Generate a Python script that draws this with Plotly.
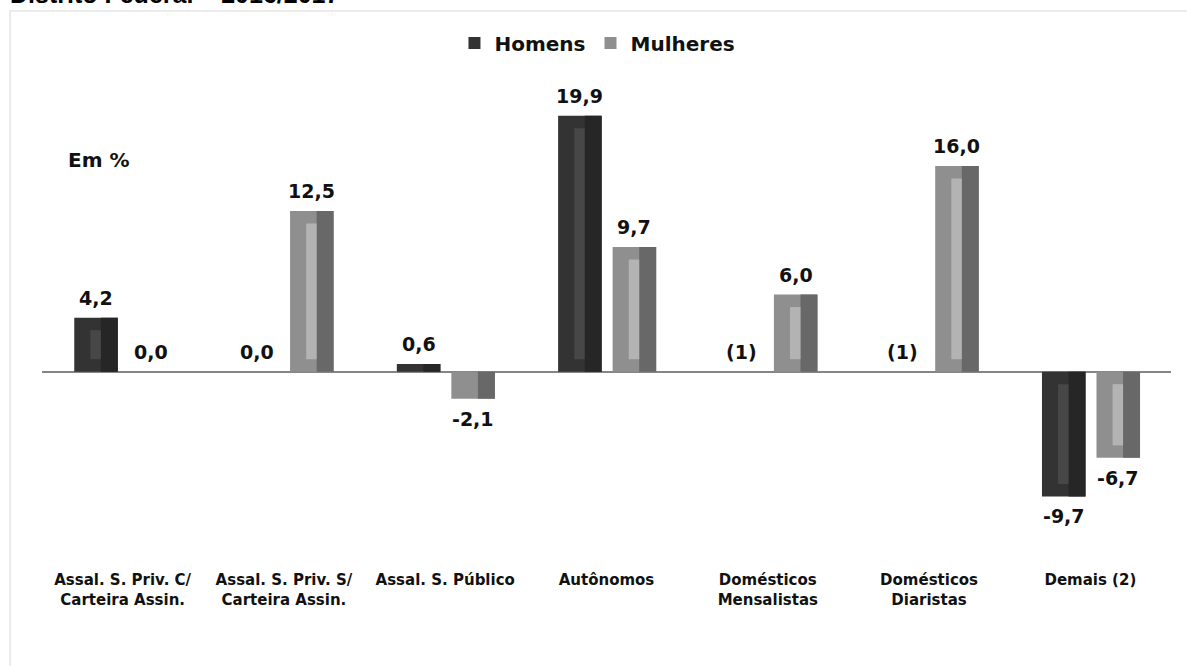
import plotly.graph_objects as go

categories = [
    "Assal. S. Priv. C/<br>Carteira Assin.",
    "Assal. S. Priv. S/<br>Carteira Assin.",
    "Assal. S. Público",
    "Autônomos",
    "Domésticos<br>Mensalistas",
    "Domésticos<br>Diaristas",
    "Demais (2)",
]
homens = [4.2, 0.0, 0.6, 19.9, None, None, -9.7]
mulheres = [0.0, 12.5, -2.1, 9.7, 6.0, 16.0, -6.7]
homens_labels = ["4,2", "0,0", "0,6", "19,9", "(1)", "(1)", "-9,7"]
mulheres_labels = ["0,0", "12,5", "-2,1", "9,7", "6,0", "16,0", "-6,7"]

# geometry / style
W = 0.27
OFF = {"Homens": -0.30, "Mulheres": 0.038}
COLORS = {
    "Homens": {"left": "#333333", "right": "#262626", "stripe": "#474747"},
    "Mulheres": {"left": "#8f8f8f", "right": "#686868", "stripe": "#b3b3b3"},
}
INSET = 0.97  # bevel inset in data units
STRIPE_START, STRIPE_END = 0.37, 0.61
LABEL_GAP = 20  # px between bar end and label centre

LABEL_FONT = dict(family="DejaVu Sans", size=19, color="#111111", weight="bold")

fig = go.Figure()
label_annotations = []


def add_series(name, values, labels):
    c = COLORS[name]
    off = OFF[name]
    vals = [0 if v is None else v for v in values]
    # main (left) body
    fig.add_trace(go.Bar(
        x=categories, y=vals, name=name, width=W, offset=off,
        marker=dict(color=c["left"], line=dict(width=0)),
        hoverinfo="name+y",
    ))
    # darker right side
    fig.add_trace(go.Bar(
        x=categories, y=vals, width=W * (1 - STRIPE_END), offset=off + W * STRIPE_END,
        marker=dict(color=c["right"], line=dict(width=0)),
        showlegend=False, hoverinfo="skip",
    ))
    # lighter central stripe, inset from both ends
    s_y, s_base = [], []
    for v in vals:
        if abs(v) > 2 * INSET + 0.3:
            sgn = 1 if v > 0 else -1
            s_y.append(v - 2 * sgn * INSET)
            s_base.append(sgn * INSET)
        else:
            s_y.append(None)
            s_base.append(0)
    fig.add_trace(go.Bar(
        x=categories, y=s_y, base=s_base,
        width=W * (STRIPE_END - STRIPE_START), offset=off + W * STRIPE_START,
        marker=dict(color=c["stripe"], line=dict(width=0)),
        showlegend=False, hoverinfo="skip",
    ))
    # value labels
    for i, (v, lab) in enumerate(zip(vals, labels)):
        label_annotations.append(dict(
            text=lab, xref="x", yref="y", x=i + off + W / 2, y=v,
            xanchor="center", yanchor="middle", showarrow=False,
            yshift=LABEL_GAP if v >= 0 else -LABEL_GAP, font=LABEL_FONT,
        ))


add_series("Homens", homens, homens_labels)
add_series("Mulheres", mulheres, mulheres_labels)

fig.update_layout(
    width=1187, height=666,
    barmode="overlay",
    paper_bgcolor="white", plot_bgcolor="white",
    margin=dict(l=42, r=16, t=60, b=100),
    showlegend=True,
    legend=dict(
        orientation="h", x=0.492, xanchor="center", y=1.0336, yanchor="middle",
        font=dict(family="DejaVu Sans", size=20, color="#111111", weight="bold"),
        itemclick=False, bgcolor="rgba(0,0,0,0)",
    ),
    xaxis=dict(
        type="category", showline=False, showgrid=False, ticks="",
        tickfont=dict(family="DejaVu Sans", size=15, color="#111111", weight="bold"),
        ticklabelstandoff=3,
        range=[-0.5, 6.5], fixedrange=True,
    ),
    yaxis=dict(
        range=[-15.11, 24.24], showticklabels=False, showgrid=False, showline=False,
        ticks="", zeroline=True, zerolinecolor="#858585", zerolinewidth=2,
        fixedrange=True,
    ),
    shapes=[dict(
        type="rect", xref="paper", yref="paper",
        x0=-0.0283, x1=1.0168, y0=-0.2095, y1=1.0968,
        line=dict(color="#ebebeb", width=2), fillcolor="rgba(0,0,0,0)", layer="below",
    )],
    annotations=[
        dict(text="Distrito Federal – 2016/2017", xref="paper", yref="paper",
             x=-0.0301, y=1.0989, xanchor="left", yanchor="bottom", showarrow=False,
             font=dict(family="Liberation Sans", size=25, color="#000000", weight="bold")),
        dict(text="Em %", xref="paper", yref="paper",
             x=0.0213, y=0.8024, xanchor="left", yanchor="middle", showarrow=False,
             font=dict(family="DejaVu Sans", size=20, color="#111111", weight="bold")),
    ] + label_annotations,
)

fig.write_html("out.html", config={"displayModeBar": False},
               post_script="document.body.style.margin='0';")
